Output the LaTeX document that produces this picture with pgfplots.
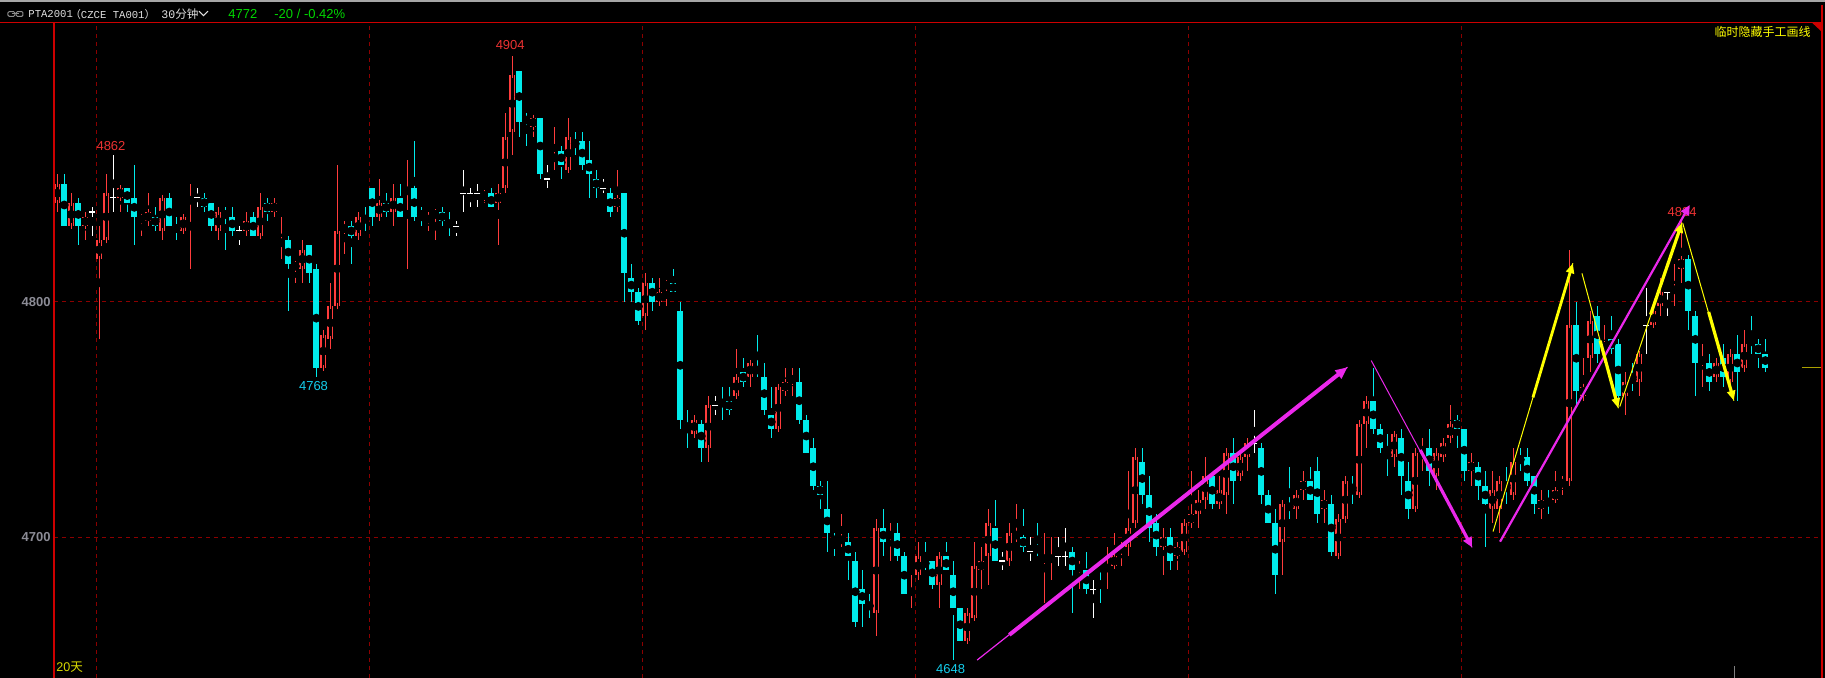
\documentclass[border=0pt]{standalone}
\usepackage{fontspec}
\setmainfont{Liberation Sans}
\newfontfamily\cjk{Noto Sans CJK SC}
\newfontfamily\mono{Liberation Mono}
\usepackage{pgfplots}
\usepackage{pgfplotstable}
\pgfplotsset{compat=1.18}
\usetikzlibrary{arrows.meta}

\definecolor{upred}{RGB}{255,60,60}
\definecolor{dncyan}{RGB}{0,235,235}
\definecolor{gridred}{RGB}{140,0,0}
\definecolor{framered}{RGB}{205,0,0}
\definecolor{magline}{RGB}{235,40,235}
\definecolor{annyel}{RGB}{255,255,0}
\definecolor{labred}{RGB}{235,50,50}
\definecolor{labcyan}{RGB}{20,205,235}
\definecolor{txtgreen}{RGB}{0,215,0}
\definecolor{axisgray}{RGB}{140,140,150}
\definecolor{markolive}{RGB}{170,160,0}

% 30-minute candles: index, open, high, low, close
\pgfplotstableread{
x o h l c
0 4842 4854 4838 4850
2 4832 4846 4832 4842
4 4832 4838 4826 4836
6 4818 4832 4784 4826
7 4826 4854 4826 4846
9 4844 4848 4838 4848
12 4834 4836 4828 4836
13 4834 4846 4832 4838
15 4830 4844 4826 4844
18 4830 4836 4830 4836
19 4842 4850 4814 4844
23 4830 4840 4826 4838
27 4830 4838 4828 4834
29 4828 4846 4828 4840
31 4838 4844 4836 4842
32 4824 4836 4818 4826
34 4814 4816 4808 4816
35 4814 4826 4808 4822
38 4772 4788 4772 4786
39 4784 4808 4780 4798
40 4798 4858 4798 4830
41 4830 4834 4820 4832
43 4828 4838 4826 4836
46 4836 4852 4834 4842
48 4838 4850 4832 4844
50 4846 4860 4814 4848
53 4834 4838 4830 4836
54 4836 4838 4826 4838
61 4844 4846 4842 4846
63 4842 4850 4824 4846
64 4848 4880 4846 4870
65 4872 4904 4862 4896
68 4874 4878 4870 4878
71 4860 4874 4856 4862
73 4856 4878 4856 4870
80 4840 4856 4838 4844
84 4794 4812 4788 4808
86 4800 4810 4798 4804
87 4806 4808 4798 4808
91 4744 4752 4742 4750
93 4738 4760 4732 4756
97 4760 4780 4760 4768
99 4768 4774 4764 4774
103 4746 4764 4746 4764
104 4762 4772 4760 4766
105 4766 4772 4760 4768
112 4698 4710 4696 4700
117 4668 4708 4658 4704
119 4700 4706 4690 4702
122 4676 4684 4670 4678
123 4684 4698 4682 4692
126 4680 4694 4670 4692
130 4656 4670 4656 4668
131 4666 4698 4666 4688
132 4686 4696 4678 4690
133 4692 4712 4680 4706
136 4690 4706 4688 4702
137 4700 4714 4698 4702
141 4690 4702 4672 4692
142 4690 4700 4682 4692
146 4686 4690 4678 4688
150 4686 4696 4678 4688
151 4688 4702 4688 4692
152 4694 4698 4688 4696
153 4696 4728 4692 4704
154 4706 4738 4704 4734
158 4696 4704 4684 4700
160 4692 4698 4686 4696
161 4694 4708 4694 4706
162 4706 4728 4704 4710
163 4710 4720 4704 4716
164 4716 4734 4712 4726
166 4714 4726 4712 4720
167 4718 4738 4710 4736
169 4726 4736 4724 4734
170 4734 4742 4728 4740
175 4698 4716 4684 4714
177 4712 4720 4708 4718
178 4720 4728 4716 4724
181 4712 4720 4706 4716
183 4692 4710 4692 4708
184 4708 4726 4706 4724
186 4718 4750 4718 4748
187 4748 4760 4738 4758
191 4734 4744 4730 4744
194 4712 4738 4712 4736
195 4736 4742 4728 4738
197 4726 4738 4720 4736
198 4734 4742 4732 4740
199 4742 4756 4740 4748
202 4728 4736 4722 4732
205 4712 4728 4706 4720
206 4712 4726 4702 4724
208 4718 4738 4716 4732
212 4712 4720 4708 4716
214 4716 4728 4716 4720
215 4722 4726 4718 4724
216 4724 4822 4722 4790
218 4760 4776 4758 4764
219 4776 4796 4770 4792
221 4780 4790 4774 4782
224 4760 4770 4752 4766
226 4766 4778 4760 4778
228 4790 4798 4790 4796
229 4798 4810 4794 4804
231 4804 4816 4798 4806
232 4814 4834 4808 4818
235 4774 4782 4764 4776
237 4768 4776 4766 4774
239 4766 4780 4764 4778
241 4772 4788 4770 4782
}\uptab

\pgfplotstableread{
x o h l c
1 4850 4854 4832 4832
3 4842 4844 4824 4832
10 4848 4848 4838 4842
11 4844 4858 4824 4836
14 4836 4840 4830 4832
16 4844 4846 4832 4832
17 4832 4836 4826 4830
21 4844 4846 4838 4840
22 4842 4842 4830 4832
24 4838 4840 4822 4836
25 4836 4840 4828 4830
28 4836 4838 4828 4828
30 4842 4844 4834 4838
33 4826 4828 4796 4816
36 4824 4824 4808 4812
37 4814 4816 4768 4772
42 4832 4834 4816 4828
44 4836 4840 4830 4834
45 4848 4848 4832 4836
47 4842 4846 4836 4838
49 4844 4850 4836 4836
51 4848 4868 4834 4836
52 4838 4840 4832 4836
55 4838 4840 4832 4834
56 4834 4838 4828 4832
62 4846 4848 4840 4840
66 4898 4898 4870 4876
67 4878 4880 4866 4876
69 4878 4878 4852 4854
72 4864 4866 4852 4858
74 4868 4872 4862 4866
75 4868 4872 4856 4858
76 4860 4868 4844 4854
77 4852 4856 4844 4848
79 4846 4848 4836 4838
81 4846 4846 4800 4812
82 4810 4816 4800 4804
83 4804 4806 4790 4792
85 4808 4810 4796 4800
88 4808 4814 4804 4804
89 4796 4800 4746 4750
90 4748 4754 4738 4746
92 4748 4750 4732 4738
95 4758 4764 4750 4756
96 4758 4764 4752 4754
98 4770 4776 4764 4766
100 4772 4786 4768 4770
101 4768 4774 4752 4754
102 4752 4764 4742 4746
106 4766 4772 4748 4750
107 4750 4752 4736 4736
108 4738 4742 4720 4722
109 4722 4724 4712 4718
110 4712 4724 4694 4702
111 4700 4702 4692 4698
113 4698 4702 4682 4692
114 4690 4694 4662 4664
115 4678 4686 4662 4672
116 4672 4676 4666 4670
118 4704 4712 4692 4698
120 4702 4706 4690 4692
121 4692 4694 4676 4676
124 4690 4698 4686 4688
125 4690 4690 4678 4680
127 4692 4698 4686 4686
128 4684 4690 4648 4670
129 4670 4670 4656 4656
134 4704 4716 4690 4690
138 4700 4712 4694 4696
140 4696 4706 4692 4694
145 4694 4696 4668 4686
147 4686 4694 4676 4678
149 4688 4688 4672 4686
155 4732 4738 4714 4718
156 4718 4726 4698 4704
157 4706 4710 4692 4696
159 4700 4704 4686 4690
165 4726 4726 4712 4714
168 4736 4742 4714 4724
172 4738 4740 4714 4718
173 4718 4720 4706 4706
174 4706 4712 4676 4684
176 4714 4730 4708 4712
179 4724 4730 4716 4716
180 4728 4734 4706 4710
182 4714 4718 4692 4694
185 4722 4726 4714 4720
188 4758 4772 4744 4746
189 4746 4748 4736 4738
190 4738 4744 4726 4736
192 4742 4746 4718 4726
193 4724 4732 4708 4712
196 4738 4746 4722 4728
200 4750 4752 4738 4746
201 4746 4746 4724 4728
203 4730 4732 4716 4722
204 4722 4728 4696 4714
207 4722 4730 4714 4720
209 4734 4738 4728 4732
210 4734 4738 4722 4724
211 4726 4726 4710 4714
213 4716 4720 4710 4714
217 4790 4800 4756 4762
220 4794 4798 4774 4778
222 4784 4794 4778 4780
223 4782 4784 4756 4760
225 4768 4774 4762 4766
233 4818 4820 4788 4796
234 4794 4796 4760 4774
236 4774 4778 4762 4766
238 4776 4782 4764 4768
240 4778 4786 4758 4770
242 4784 4794 4778 4782
243 4782 4784 4772 4778
244 4778 4784 4770 4772
}\dntab

\pgfplotstableread{
x o h l c
5 4838 4840 4828 4838
8 4844 4862 4838 4844
20 4844 4848 4840 4844
26 4830 4832 4824 4830
57 4832 4834 4828 4832
58 4846 4856 4838 4846
59 4846 4848 4840 4846
60 4846 4850 4840 4846
70 4852 4858 4848 4852
78 4848 4852 4846 4848
94 4756 4760 4752 4756
135 4690 4694 4686 4690
139 4694 4700 4690 4694
143 4692 4700 4688 4692
144 4692 4704 4688 4692
148 4678 4682 4666 4678
171 4740 4754 4736 4740
227 4790 4806 4778 4790
230 4804 4804 4794 4804
}\dojitab

\begin{document}
\begin{tikzpicture}
% black screen
\fill[black] (-27pt,0pt) rectangle (885.5pt,339pt);
\fill[black!35] (-27pt,338pt) rectangle (885.5pt,339pt);

\begin{axis}[
    at={(0pt,0pt)}, anchor=south west,
    scale only axis, width=884pt, height=327.65pt,
    xmin=-0.471, xmax=252.09,
    ymin=4640.4, ymax=4918.3,
    clip mode=individual,
    axis line style={draw=none},
    xtick={5.571,44.571,83.571,122.571,161.571,200.571},
    xticklabels={},
    ytick={4700,4800},
    major tick length=0pt,
    tick style={draw=none},
    xmajorgrids, ymajorgrids,
    major grid style={gridred, dash pattern=on 2pt off 2pt, line width=0.5pt},
    /pgf/number format/assume math mode=true,
    /pgf/number format/1000 sep={},
    yticklabel style={font=\fontsize{6.5}{7}\selectfont\bfseries, text=axisgray, inner sep=1.5pt},
]
% up candles: red wick, hollow red body
\addplot[only marks, mark=none, error bars/.cd, y dir=both, y explicit, error mark=none,
    error bar style={upred, line width=0.55pt}]
    table[x=x, y expr=(\thisrow{h}+\thisrow{l})/2, y error expr=(\thisrow{h}-\thisrow{l})/2] {\uptab};
\addplot[only marks, mark=none, error bars/.cd, y dir=both, y explicit, error mark=none,
    error bar style={upred, line width=3pt}]
    table[x=x, y expr=(\thisrow{o}+\thisrow{c})/2, y error expr=(\thisrow{c}-\thisrow{o})/2] {\uptab};
\addplot[only marks, mark=none, error bars/.cd, y dir=both, y explicit, error mark=-,
    error bar style={black, line width=1.7pt},
    error mark options={upred, line width=0.65pt, mark size=1.5pt}]
    table[x=x, y expr=(\thisrow{o}+\thisrow{c})/2, y error expr=(\thisrow{c}-\thisrow{o})/2] {\uptab};
% down candles: filled cyan
\addplot[only marks, mark=none, error bars/.cd, y dir=both, y explicit, error mark=none,
    error bar style={dncyan, line width=0.55pt}]
    table[x=x, y expr=(\thisrow{h}+\thisrow{l})/2, y error expr=(\thisrow{h}-\thisrow{l})/2] {\dntab};
\addplot[only marks, mark=none, error bars/.cd, y dir=both, y explicit, error mark=none,
    error bar style={dncyan, line width=3pt}]
    table[x=x, y expr=(\thisrow{o}+\thisrow{c})/2, y error expr=(\thisrow{o}-\thisrow{c})/2] {\dntab};
% doji crosses
\addplot[only marks, mark=none, error bars/.cd, y dir=both, y explicit, error mark=none,
    error bar style={white, line width=0.55pt}]
    table[x=x, y expr=(\thisrow{h}+\thisrow{l})/2, y error expr=(\thisrow{h}-\thisrow{l})/2] {\dojitab};
\addplot[only marks, mark=-, mark size=1.5pt, white, mark options={line width=0.55pt}]
    table[x=x, y=o] {\dojitab};

% current price marker
\addplot[markolive, line width=0.5pt] coordinates {(249.2,4772) (252.09,4772)};

% extreme price labels
\node[font=\fontsize{6.5}{7}\selectfont, text=labred] at (axis cs:7.67,4866.2) {4862};
\node[font=\fontsize{6.5}{7}\selectfont, text=labcyan] at (axis cs:36.6,4764.4) {4768};
\node[font=\fontsize{6.5}{7}\selectfont, text=labred] at (axis cs:64.7,4908.7) {4904};
\node[font=\fontsize{6.5}{7}\selectfont, text=labcyan] at (axis cs:127.6,4644.1) {4648};
\node[font=\fontsize{6.5}{7}\selectfont, text=labred] at (axis cs:232.1,4838.2) {4834};

% hand-drawn trend lines
\addplot[magline, line width=0.6pt] coordinates {(131.4,4648.0) (184.3,4772.2)};
\addplot[magline, line width=2pt, -{Triangle[length=6pt,width=5pt]}] coordinates {(136.0,4658.7) (184.3,4772.2)};
\addplot[magline, line width=0.5pt] coordinates {(187.7,4775.0) (202.1,4695.8)};
\addplot[magline, line width=1.6pt, -{Triangle[length=5pt,width=4.5pt]}] coordinates {(194.7,4737.1) (202.1,4695.8)};
\addplot[magline, line width=1.1pt, -{Triangle[length=5pt,width=4.5pt]}] coordinates {(206.1,4698.2) (233.2,4841.0)};

\addplot[annyel, line width=0.5pt] coordinates {(205.1,4702.5) (216.5,4816.3)};
\addplot[annyel, line width=1.4pt, -{Triangle[length=5pt,width=4pt]}] coordinates {(210.8,4759.4) (216.5,4816.3)};
\addplot[annyel, line width=0.5pt] coordinates {(217.8,4812.0) (223.0,4754.8)};
\addplot[annyel, line width=1.6pt, -{Triangle[length=5pt,width=4pt]}] coordinates {(220.4,4783.4) (223.0,4754.8)};
\addplot[annyel, line width=0.5pt] coordinates {(223.2,4755.5) (232.1,4833.5)};
\addplot[annyel, line width=1.6pt, -{Triangle[length=5pt,width=4pt]}] coordinates {(227.6,4794.5) (232.1,4833.5)};
\addplot[annyel, line width=0.5pt] coordinates {(232.2,4833.2) (239.5,4758.0)};
\addplot[annyel, line width=1.6pt, -{Triangle[length=5pt,width=4pt]}] coordinates {(235.9,4795.6) (239.5,4758.0)};
\end{axis}

% frame
\draw[framered, line width=0.6pt] (-27pt,327.65pt) -- (884pt,327.65pt);
\draw[framered, line width=0.6pt] (0pt,0pt) -- (0pt,327.65pt);
\draw[framered, line width=0.6pt] (884pt,0pt) -- (884pt,336.5pt);
\fill[framered] (879pt,327.65pt) -- (884pt,327.65pt) -- (884pt,323pt) -- cycle;
\draw[black!50, line width=0.5pt] (840pt,0pt) -- (840pt,6pt);

% header
\draw[black!45, line width=0.5pt, rounded corners=0.6pt] (-23pt,330.8pt) rectangle (-19.6pt,333.2pt);
\draw[black!45, line width=0.5pt, rounded corners=0.6pt] (-18.9pt,330.8pt) rectangle (-15.5pt,333.2pt);
\draw[black!45, line width=0.5pt] (-21pt,332pt) -- (-17.5pt,332pt);
\node[anchor=west, inner sep=0pt, text=white!88!black, font=\mono\fontsize{5.3}{6}\selectfont] at (-13pt,332pt) {PTA2001};
\node[anchor=west, inner sep=0pt, text=white!88!black, font=\fontsize{5.3}{6}\selectfont] at (8pt,332pt) {{\cjk （}{\mono CZCE TA001}{\cjk ）}};
\node[anchor=west, inner sep=0pt, text=white!88!black, font=\fontsize{5.8}{6}\selectfont] at (53.5pt,332pt) {{\mono 30}{\cjk 分钟}};
\draw[white!88!black, line width=0.5pt] (72.5pt,333.4pt) -- (74.75pt,331.2pt) -- (77pt,333.4pt);
\node[anchor=west, inner sep=0pt, text=txtgreen, font=\fontsize{6.5}{7}\selectfont] at (87pt,332pt) {4772};
\node[anchor=west, inner sep=0pt, text=txtgreen, font=\fontsize{6.5}{7}\selectfont] at (110pt,332pt) {-20 / -0.42\%};
\node[anchor=east, inner sep=0pt, text=annyel, font=\cjk\fontsize{6}{7}\selectfont] at (878.5pt,323.2pt) {临时隐藏手工画线};
\node[anchor=west, inner sep=0pt, text=annyel!85!black, font=\fontsize{6.3}{7}\selectfont] at (1pt,5.5pt) {20{\cjk 天}};

\pgfresetboundingbox
\useasboundingbox (-27pt,0pt) rectangle (885.5pt,339pt);
\end{tikzpicture}
\end{document}
